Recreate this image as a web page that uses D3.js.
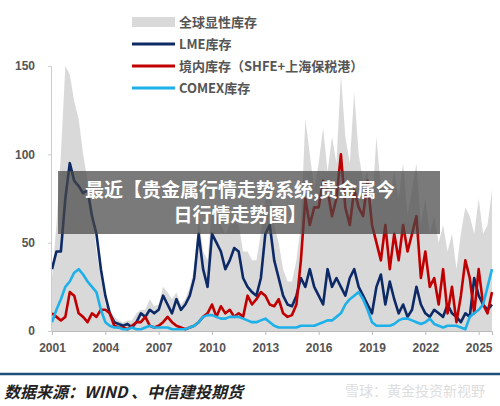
<!DOCTYPE html>
<html><head><meta charset="utf-8">
<script src="https://cdn.jsdelivr.net/npm/d3@7"></script>
<style>body{margin:0;background:#fff;font-family:"Noto Sans CJK SC","Noto Sans",sans-serif}</style>
</head><body><svg id="c" width="500" height="406"></svg>
<script>
// quarterly values, 2001Q1 .. 2025Q4
var startYear = 2001;
var globalInv = [30,60,100,150, 145,130,120,100, 85,70,45,30, 15,12,8,6, 5,6,6,10, 12,12,18,14, 15,25,22,18, 22,15,18,25,
  35,65,45,40, 70,65,60,55, 60,62,60,45, 45,40,40,55, 75,80,60,50, 35,28,28,40, 60,120,100,80, 95,115,90,110,
  95,145,110,95, 135,100,85,90, 70,110,80,85, 75,90,75,95, 65,80,95,60, 75,55,65,50, 60,45,55,35, 55,70,65,55, 75,55,60,80];
var lme = [35,45,45,75, 95,85,82,78, 80,65,55,35, 20,10,5,4, 3,4,2,5, 10,8,12,10, 12,20,15,10, 18,12,15,20,
  30,55,35,25, 55,50,45,35, 40,47,45,30, 25,22,20,30, 55,60,40,30, 20,15,14,20, 30,25,35,25, 20,15,35,25,
  30,25,20,30, 35,25,20,15, 10,25,32,15, 28,18,10,15, 8,12,25,15, 10,8,12,10, 8,15,10,8, 5,10,8,30, 20,15,12,15];
var domestic = [10,8,6,8, 22,20,10,8, 5,10,8,12, 12,10,3,2, 2,1,3,5, 5,8,3,2, 3,5,8,5, 3,2,1,2,
  3,5,8,10, 15,8,14,10, 12,8,10,8, 20,15,18,22, 20,15,14,18, 10,8,9,15, 40,75,60,70, 70,85,80,65,
  75,100,70,60, 80,70,65,85, 60,50,40,60, 35,55,40,60, 45,55,65,30, 45,25,30,15, 35,10,25,5, 20,40,30,10, 35,15,10,22];
var comex = [5,12,18,25, 28,33,35,32, 28,25,22,12, 5,3,2,2, 1,1,2,1, 1,2,3,2, 2,2,2,1, 1,1,1,2,
  3,5,8,9, 9,8,7,7, 8,8,8,7, 6,5,5,6, 7,5,3,2, 2,2,2,2, 3,3,3,3, 4,5,6,6,
  8,10,15,18, 20,22,18,12, 5,3,3,3, 3,4,6,7, 7,6,5,4, 5,7,4,3, 2,3,3,3, 2,1,8,10, 12,15,25,35];
var xTicks = [2001,2004,2007,2010,2013,2016,2019,2022,2025];
var yTicks = [0,50,100,150];
var legendNames = ["全球显性库存","LME库存","境内库存（SHFE+上海保税港）","COMEX库存"];
var colors = ["#d9d9d9","#0d2a66","#c00000","#1eb0e8"];

var svg = d3.select("#c");
var x = d3.scaleLinear().domain([2001, 2025.75]).range([52, 492]);
var y = d3.scaleLinear().domain([0, 150]).range([331, 66]);
function t(i) { return startYear + i * 0.25; }

svg.append("path").datum(globalInv)
  .attr("fill", colors[0])
  .attr("d", d3.area().x(function(d,i){return x(t(i));}).y0(y(0)).y1(function(d){return y(d);}));

[lme, domestic, comex].forEach(function(s, k) {
  svg.append("path").datum(s).attr("fill","none").attr("stroke", colors[k+1]).attr("stroke-width", 2.6)
    .attr("stroke-linejoin","round")
    .attr("d", d3.line().x(function(d,i){return x(t(i));}).y(function(d){return y(d);}));
});

var ax = svg.append("g").attr("transform","translate(0,"+y(0)+")")
  .call(d3.axisBottom(x).tickValues(xTicks).tickFormat(d3.format("d")).tickSize(4));
ax.select(".domain").attr("stroke","#bbb");
ax.selectAll("line").attr("stroke","#bbb");
ax.selectAll("text").attr("fill","#555").attr("font-size",12).attr("font-weight","bold").attr("dy","1.2em");

var ay = svg.append("g").attr("transform","translate(51,0)")
  .call(d3.axisLeft(y).tickValues(yTicks).tickSize(3));
ay.select(".domain").attr("stroke","#ccc");
ay.selectAll("line").attr("stroke","#ccc");
ay.selectAll("text").attr("fill","#555").attr("font-size",12).attr("font-weight","bold").attr("x",-16);

var lg = svg.append("g");
legendNames.forEach(function(n, i) {
  var yy = 22 + i * 22;
  if (i == 0) lg.append("rect").attr("x",132).attr("y",yy-5).attr("width",43).attr("height",10).attr("fill",colors[0]);
  else lg.append("line").attr("x1",132).attr("x2",175).attr("y1",yy).attr("y2",yy).attr("stroke",colors[i]).attr("stroke-width",3);
  lg.append("text").attr("x",179).attr("y",yy+5).attr("font-size",13).attr("font-weight","bold").attr("fill","#555").text(n);
});

// overlay banner
svg.append("rect").attr("x",58).attr("y",171).attr("width",382).attr("height",63).attr("fill","rgba(70,70,70,0.72)");
svg.append("text").attr("x",240).attr("y",197).attr("text-anchor","middle").attr("fill","#fff")
  .attr("font-size",19).attr("font-weight","bold").text("最近【贵金属行情走势系统,贵金属今");
svg.append("text").attr("x",240).attr("y",222).attr("text-anchor","middle").attr("fill","#fff")
  .attr("font-size",19).attr("font-weight","bold").text("日行情走势图】");

// footer
svg.append("line").attr("x1",0).attr("x2",500).attr("y1",374).attr("y2",374).attr("stroke","#1f4e79").attr("stroke-width",2.5);
svg.append("text").attr("x",4).attr("y",398).attr("font-size",16).attr("font-weight","bold").attr("font-style","italic")
  .attr("fill","#222").text("数据来源：WIND 、中信建投期货");
svg.append("text").attr("x",485).attr("y",396).attr("text-anchor","end").attr("font-size",14)
  .attr("fill","#ddd").text("雪球：黄金投资新视野");
</script></body></html>
